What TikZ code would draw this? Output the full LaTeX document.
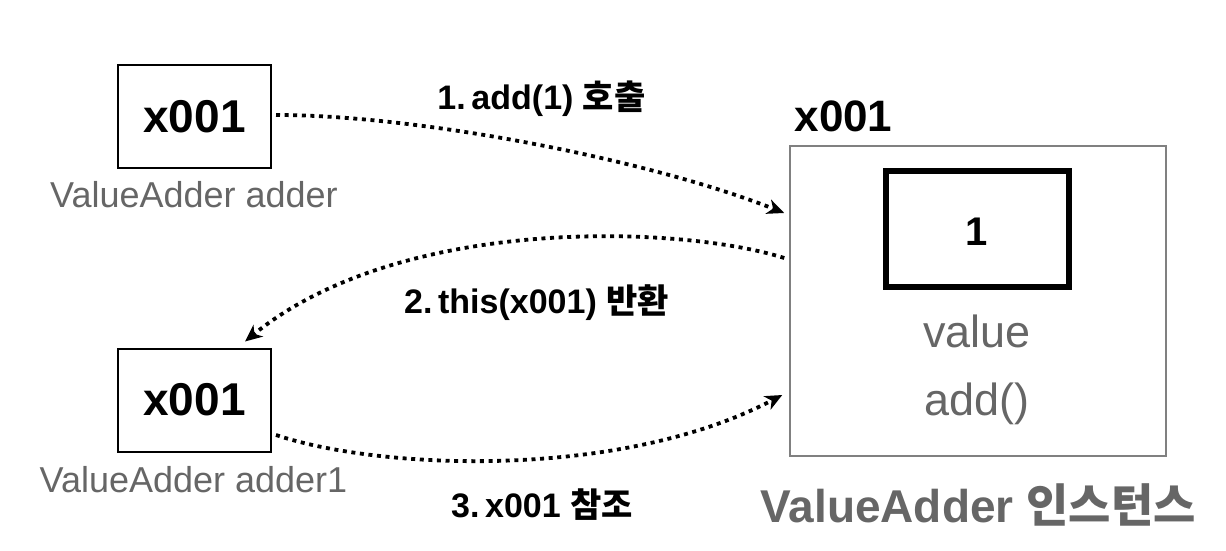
\documentclass[tikz,border=0pt]{standalone}
\usepackage{fontspec}
\setmainfont{Liberation Sans}
\newfontfamily\kr{Noto Sans CJK KR}
\usepackage{tikz}
\usetikzlibrary{arrows.meta}
\definecolor{txtgray}{HTML}{666666}
\definecolor{boxgray}{HTML}{808080}

\begin{document}
\begin{tikzpicture}[line join=miter,x=1pt,y=1pt,
  membox/.style={draw=black,line width=2pt,minimum width=153pt,minimum height=103pt,inner sep=0pt,font=\fontsize{46}{52}\selectfont\bfseries},
  varname/.style={anchor=base,text=txtgray,font=\fontsize{36}{42}\selectfont},
  steplabel/.style={anchor=base,font=\fontsize{34}{40}\selectfont\bfseries},
  member/.style={anchor=base,text=txtgray,font=\fontsize{45}{50}\selectfont},
  refarrow/.style={line width=3.8pt,dash pattern=on 4pt off 4.6pt,-{Stealth[length=17pt,width=15pt,inset=5pt]}}]
\useasboundingbox (0,0) rectangle (1226,550);
% references on the left
\node[membox] (adder) at (194.5,433.5) {x001};
\node[membox] (adderone) at (194.5,150) {x001};
\node[varname] (addername) at (194,343) {ValueAdder adder};
\node[varname] (adderonename) at (193.5,58) {ValueAdder adder1};
% the instance
\node[draw=boxgray,line width=1.5pt,minimum width=376pt,minimum height=310pt] (inst) at (978,249) {};
\node[anchor=base west,font=\fontsize{44}{50}\selectfont\bfseries] (instaddr) at (791,418) {x001};
\node[draw=black,line width=6.5pt,minimum width=183pt,minimum height=116pt,inner sep=0pt] (valbox) at (977.5,321) {};
\node[anchor=base,font=\fontsize{40}{46}\selectfont\bfseries] (valnum) at (977,305) {1};
\node[member] (valname) at (977,203) {value};
\node[member] (addname) at (977,135) {add()};
\node[anchor=base west,text=txtgray,font=\fontsize{46}{52}\selectfont\bfseries] (instname) at (757,28) {ValueAdder {\kr 인스턴스}};
% step labels
\node[steplabel] (stepone) at (541.5,440) {1.\,add(1) {\kr 호출}};
\node[steplabel] (steptwo) at (536.5,237) {2.\,this(x001) {\kr 반환}};
\node[steplabel] (stepthree) at (542,33) {3.\,x001 {\kr 참조}};
% arrows
\draw[refarrow] ([xshift=4pt,yshift=1.5pt]adder.east) .. controls (420,435) and (650,390) .. ([xshift=-5pt,yshift=88pt]inst.west);
\draw[refarrow] ([xshift=-5pt,yshift=43pt]inst.west) .. controls (680,325) and (400,335) .. ([xshift=50.5pt,yshift=6pt]adderone.north);
\draw[refarrow] ([xshift=4pt,yshift=-35pt]adderone.east) .. controls (380,80) and (620,70) .. ([xshift=-7pt,yshift=-94pt]inst.west);
\end{tikzpicture}
\end{document}
